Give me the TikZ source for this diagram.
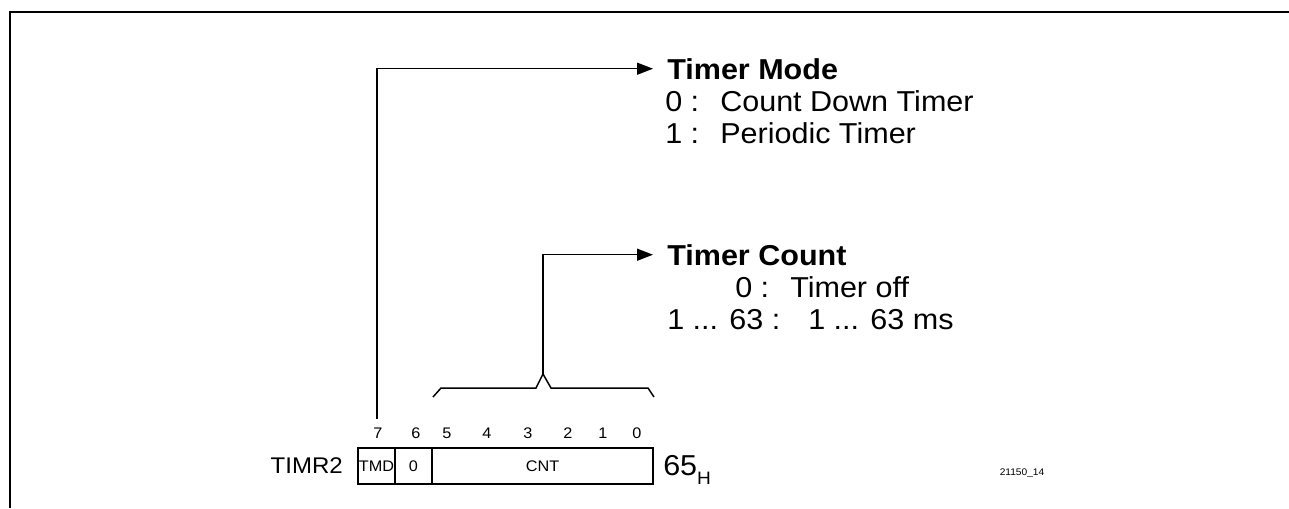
\documentclass[tikz,border=0pt]{standalone}
\usepackage{fontspec}
\setmainfont[FakeStretch=1.06]{Liberation Sans}
\usetikzlibrary{arrows.meta}
\tikzset{
  frameline/.style={line width=1.5pt},
  conn/.style={line width=1.125pt, -{Triangle[length=12pt,width=9pt]}, shorten >=10.5pt},
  bracepath/.style={line width=1.125pt},
  txt/.style={inner sep=0pt, font=\fontsize{21.6pt}{25pt}\selectfont},
  ttl/.style={inner sep=0pt, font=\fontsize{21.6pt}{25pt}\selectfont\bfseries},
  bitlbl/.style={inner sep=0pt, font=\fontsize{11.5pt}{13pt}\selectfont},
  cell/.style={draw, line width=1.125pt, inner sep=0pt, minimum height=27pt, font=\fontsize{11.5pt}{13pt}\selectfont},
}
\begin{document}
\begin{tikzpicture}[x=0.75pt,y=-0.75pt]
\useasboundingbox (0,0) rectangle (1289,508);
% frame
\draw[frameline] (10,508) -- (10,12) -- (1289,12);

% Timer Mode text
\node[ttl, anchor=base west] (tm) at (667,79) {Timer Mode};
\node[txt, anchor=base west] (tm0k) at (665,111) {0 :};
\node[txt, anchor=base west] (tm0v) at (720,111) {Count Down Timer};
\node[txt, anchor=base west] (tm1k) at (665,143) {1 :};
\node[txt, anchor=base west] (tm1v) at (720,143) {Periodic Timer};

% Timer Count text
\node[ttl, anchor=base west] (tc) at (667,265) {Timer Count};
\node[txt, anchor=base west] (tc0k) at (735,297) {0 :};
\node[txt, anchor=base west] (tc0v) at (790,297) {Timer off};
\node[txt, anchor=base west] (tc1k) at (667,329) {1 ... 63 :};
\node[txt, anchor=base west] (tc1v) at (808,329) {1 ... 63 ms};

% bit labels
\foreach \b/\x in {7/378,6/416,5/447,4/487,3/528,2/568,1/603,0/637}{
  \node[bitlbl] (bit\b) at (\x,433) {\b};
}

% register cells
\node[cell, minimum width=27.75pt] (tmd) at (376.5,466) {TMD};
\node[cell, minimum width=27.75pt] (zero) at (413.5,466) {0};
\node[cell, minimum width=165.75pt] (cnt) at (542.5,466) {CNT};

\node[inner sep=0pt, anchor=base east, font=\fontsize{17pt}{19pt}\selectfont] (reg) at (343,473) {TIMR2};
\node[txt, anchor=base west] (addr) at (663,475) {65\raisebox{-6.75pt}{\fontsize{13.5pt}{15pt}\selectfont H}};
\node[inner sep=0pt, font=\fontsize{7.2pt}{8pt}\selectfont] (fig) at (1022,473) {21150\_14};

% brace over bits 5..0
\coordinate (brtip) at (543,374);
\draw[bracepath] (433,397) -- (441,388) -- (536,388) -- (brtip) -- (551,388) -- (648,388) -- (654,397);

% connectors
\coordinate (b7top) at (377,419);
\draw[conn] (b7top) |- (tm.west);
\draw[conn] (brtip) |- (tc.west);
\end{tikzpicture}
\end{document}
